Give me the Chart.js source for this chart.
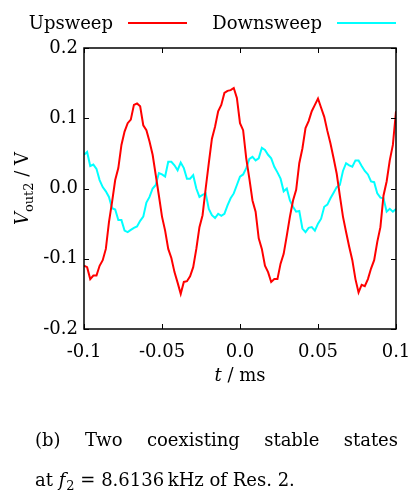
<!DOCTYPE html>
<html><head><meta charset="utf-8">
<script src="https://cdn.jsdelivr.net/npm/chart.js@4/dist/chart.umd.min.js"></script>
<style>html,body{margin:0;padding:0;background:#fff;}#wrap{position:relative;width:408px;height:493px;}</style>
</head><body><div id="wrap"><canvas id="c"></canvas></div>
<script>
// time axis (ms)
const timeMs = [-0.100,-0.098,-0.096,-0.094,-0.092,-0.090,-0.088,-0.086,-0.084,-0.082,
-0.080,-0.078,-0.076,-0.074,-0.072,-0.070,-0.068,-0.066,-0.064,-0.062,
-0.060,-0.058,-0.056,-0.054,-0.052,-0.050,-0.048,-0.046,-0.044,-0.042,
-0.040,-0.038,-0.036,-0.034,-0.032,-0.030,-0.028,-0.026,-0.024,-0.022,
-0.020,-0.018,-0.016,-0.014,-0.012,-0.010,-0.008,-0.006,-0.004,-0.002,
0.000,0.002,0.004,0.006,0.008,0.010,0.012,0.014,0.016,0.018,
0.020,0.022,0.024,0.026,0.028,0.030,0.032,0.034,0.036,0.038,
0.040,0.042,0.044,0.046,0.048,0.050,0.052,0.054,0.056,0.058,
0.060,0.062,0.064,0.066,0.068,0.070,0.072,0.074,0.076,0.078,
0.080,0.082,0.084,0.086,0.088,0.090,0.092,0.094,0.096,0.098,0.100];
// V_out2 (V), upsweep
const upsweep = [-0.110,-0.112,-0.129,-0.124,-0.124,-0.110,-0.102,-0.086,-0.048,-0.019,
0.012,0.029,0.062,0.081,0.093,0.098,0.119,0.121,0.117,0.090,
0.083,0.067,0.048,0.019,-0.010,-0.040,-0.060,-0.086,-0.099,-0.119,
-0.134,-0.150,-0.133,-0.132,-0.125,-0.112,-0.086,-0.055,-0.038,0.000,
0.036,0.071,0.088,0.110,0.119,0.136,0.139,0.140,0.143,0.129,
0.093,0.083,0.043,0.014,-0.017,-0.033,-0.071,-0.086,-0.110,-0.119,
-0.133,-0.129,-0.129,-0.107,-0.093,-0.067,-0.040,-0.017,-0.002,0.036,
0.057,0.086,0.096,0.110,0.119,0.128,0.115,0.102,0.082,0.064,
0.043,0.021,-0.010,-0.040,-0.062,-0.083,-0.102,-0.129,-0.148,-0.137,
-0.139,-0.129,-0.114,-0.102,-0.076,-0.055,-0.010,0.010,0.040,0.062,0.110];
// V_out2 (V), downsweep
const downsweep = [0.048,0.052,0.032,0.034,0.028,0.012,0.002,-0.004,-0.012,-0.028,
-0.030,-0.045,-0.045,-0.060,-0.062,-0.059,-0.056,-0.054,-0.046,-0.040,
-0.020,-0.012,0.000,0.005,0.022,0.020,0.017,0.038,0.038,0.033,
0.026,0.037,0.029,0.014,0.014,0.019,0.000,-0.012,-0.009,-0.007,
-0.029,-0.038,-0.042,-0.036,-0.039,-0.036,-0.024,-0.014,-0.007,0.005,
0.017,0.020,0.029,0.042,0.045,0.040,0.043,0.058,0.055,0.048,
0.043,0.031,0.023,0.014,-0.004,0.000,-0.017,-0.026,-0.033,-0.032,
-0.057,-0.062,-0.056,-0.055,-0.060,-0.050,-0.043,-0.026,-0.023,-0.014,
-0.006,0.002,0.005,0.025,0.036,0.033,0.031,0.040,0.040,0.032,
0.025,0.020,0.010,0.009,-0.007,-0.013,-0.014,-0.033,-0.029,-0.033,-0.029];
const seriesNames = ['Upsweep','Downsweep'];
const seriesColors = ['#ff0000','#00ffff'];
const xTicks = [-0.1,-0.05,0,0.05,0.1];
const xTickLabels = ['-0.1','-0.05','0.0','0.05','0.1'];
const yTicks = [-0.2,-0.1,0,0.1,0.2];
const yTickLabels = ['-0.2','-0.1','0.0','0.1','0.2'];
const captionLine1 = ['(b)','Two','coexisting','stable','states'];
const FONT = '"DejaVu Serif", serif';

const toPts = arr => arr.map((v,i)=>({x:timeMs[i], y:v}));

function labelFor(list, labels, v){
  const i = list.findIndex(t => Math.abs(t - v) < 1e-9);
  return i >= 0 ? labels[i] : '';
}

const decor = {
  id:'decor',
  afterDraw(chart){
    const {ctx, chartArea:a, scales:{x,y}} = chart;
    ctx.save();
    // frame
    ctx.strokeStyle = '#000';
    ctx.lineWidth = 1.5;
    ctx.strokeRect(a.left, a.top, a.right - a.left, a.bottom - a.top);
    // inward ticks, mirrored
    ctx.lineWidth = 1;
    ctx.beginPath();
    xTicks.forEach(v=>{
      const p = Math.round(x.getPixelForValue(v)) + 0.5;
      ctx.moveTo(p, a.bottom); ctx.lineTo(p, a.bottom - 5);
      ctx.moveTo(p, a.top); ctx.lineTo(p, a.top + 5);
    });
    yTicks.forEach(v=>{
      const p = Math.round(y.getPixelForValue(v)) + 0.5;
      ctx.moveTo(a.left, p); ctx.lineTo(a.left + 5, p);
      ctx.moveTo(a.right, p); ctx.lineTo(a.right - 5, p);
    });
    ctx.stroke();

    ctx.fillStyle = '#000';
    ctx.textBaseline = 'alphabetic';
    // legend: text then line sample
    ctx.font = '18px ' + FONT;
    ctx.textAlign = 'right';
    const legendY = 29;
    const legendItems = [{text:seriesNames[0], tx:113, x0:128, x1:187, c:seriesColors[0]},
                         {text:seriesNames[1], tx:322, x0:337, x1:396, c:seriesColors[1]}];
    legendItems.forEach(it=>{
      ctx.fillText(it.text, it.tx, legendY);
      ctx.strokeStyle = it.c; ctx.lineWidth = 2;
      ctx.beginPath(); ctx.moveTo(it.x0, 23); ctx.lineTo(it.x1, 23); ctx.stroke();
    });

    // x title: "t / ms"
    ctx.textAlign = 'left';
    const xc = (a.left + a.right) / 2;
    const partsX = [{t:'t', f:'italic 18px ' + FONT}, {t:' / ms', f:'18px ' + FONT}];
    let w = 0;
    partsX.forEach(p=>{ctx.font = p.f; p.w = ctx.measureText(p.t).width; w += p.w;});
    let cx = xc - w/2;
    partsX.forEach(p=>{ctx.font = p.f; ctx.fillText(p.t, cx, 381); cx += p.w;});

    // y title: V_out2 / V, rotated
    ctx.save();
    ctx.translate(28, (a.top + a.bottom)/2);
    ctx.rotate(-Math.PI/2);
    const partsY = [{t:'V', f:'italic 18px ' + FONT, dy:0},
                    {t:'out2', f:'13px ' + FONT, dy:5},
                    {t:' / V', f:'18px ' + FONT, dy:0}];
    w = 0;
    partsY.forEach(p=>{ctx.font = p.f; p.w = ctx.measureText(p.t).width; w += p.w;});
    cx = -w/2;
    partsY.forEach(p=>{ctx.font = p.f; ctx.fillText(p.t, cx, p.dy); cx += p.w;});
    ctx.restore();

    // caption line 1 (justified)
    ctx.font = '18px ' + FONT;
    const L = 35, R = 398;
    let tw = 0;
    const ws = captionLine1.map(s=>{const m = ctx.measureText(s).width; tw += m; return m;});
    const gap = (R - L - tw) / (captionLine1.length - 1);
    cx = L;
    captionLine1.forEach((s,i)=>{ctx.fillText(s, cx, 446); cx += ws[i] + gap;});
    // caption line 2
    const parts2 = [{t:'at ', f:'18px ' + FONT, dy:0},
                    {t:'f', f:'italic 18px ' + FONT, dy:0},
                    {t:'2', f:'13px ' + FONT, dy:4},
                    {t:' = 8.6136\u2009kHz of Res. 2.', f:'18px ' + FONT, dy:0}];
    cx = L;
    parts2.forEach(p=>{ctx.font = p.f; ctx.fillText(p.t, cx, 486 + p.dy); cx += ctx.measureText(p.t).width + (p.t==='f'?1:0);});
    ctx.restore();
  }
};

new Chart(document.getElementById('c'), {
  type:'line',
  data:{datasets:[
    {label:seriesNames[0], data:toPts(upsweep), borderColor:seriesColors[0], borderWidth:2, pointRadius:0, tension:0, fill:false},
    {label:seriesNames[1], data:toPts(downsweep), borderColor:seriesColors[1], borderWidth:2, pointRadius:0, tension:0, fill:false}
  ]},
  options:{
    responsive:true, maintainAspectRatio:false, animation:false, devicePixelRatio:1,
    layout:{padding:{left:0, right:12, top:48, bottom:0}},
    plugins:{legend:{display:false}, tooltip:{enabled:false}},
    scales:{
      x:{type:'linear', min:-0.1, max:0.1,
         afterBuildTicks:s=>{s.ticks = xTicks.map(v=>({value:v}));},
         afterFit:s=>{s.height = 164; s.paddingLeft = 0; s.paddingRight = 0;},
         grid:{display:false, drawTicks:false, tickLength:0}, border:{display:false},
         ticks:{color:'#000', font:{family:FONT, size:18}, padding:13, maxRotation:0, autoSkip:false,
                callback:v=>labelFor(xTicks, xTickLabels, v)}},
      y:{type:'linear', min:-0.2, max:0.2,
         afterBuildTicks:s=>{s.ticks = yTicks.map(v=>({value:v}));},
         afterFit:s=>{s.width = 84; s.paddingTop = 0; s.paddingBottom = 0;},
         grid:{display:false, drawTicks:false, tickLength:0}, border:{display:false},
         ticks:{color:'#000', font:{family:FONT, size:18}, padding:6, autoSkip:false,
                callback:v=>labelFor(yTicks, yTickLabels, v)}}
    }
  },
  plugins:[decor]
});
</script></body></html>
